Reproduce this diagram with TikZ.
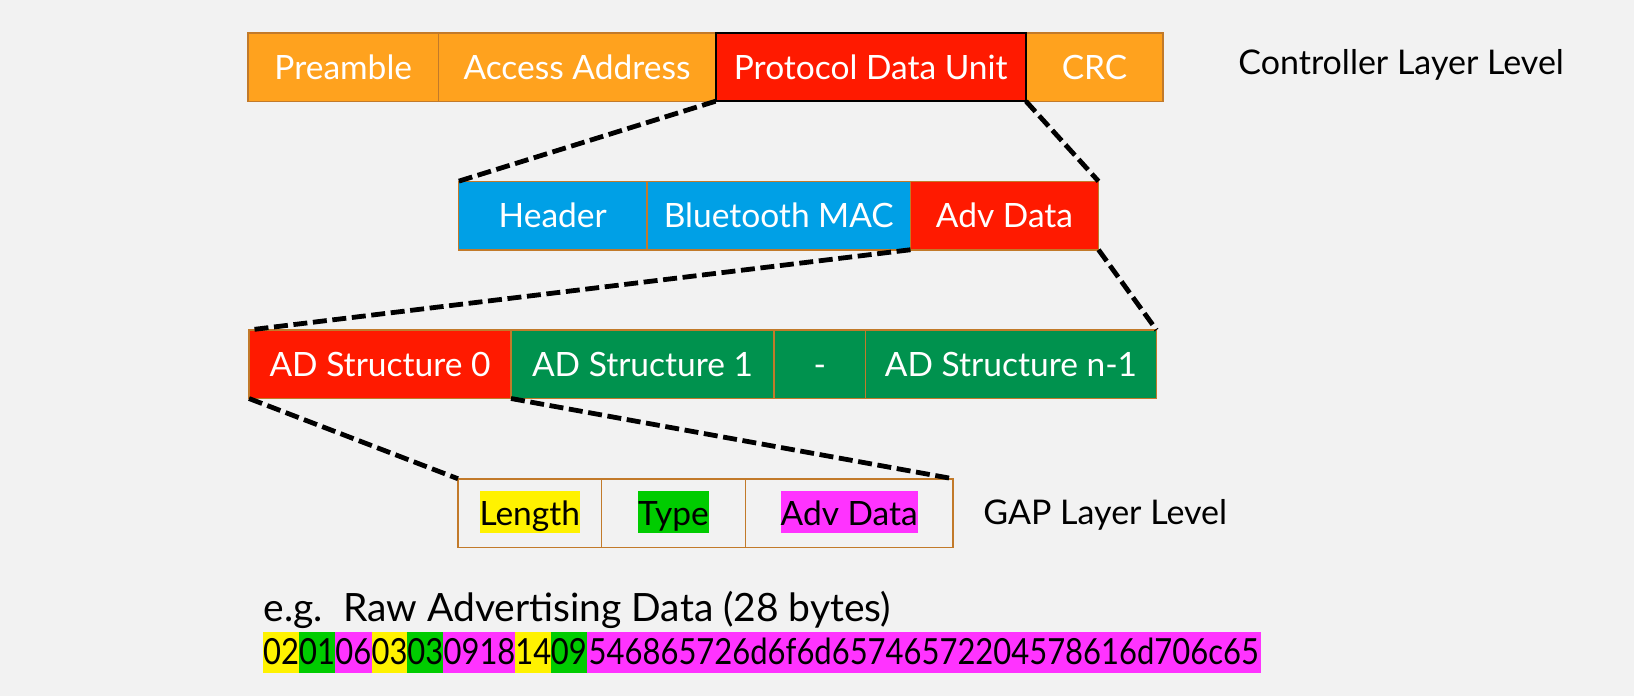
\documentclass[tikz,border=0pt]{standalone}
\usepackage{fontspec}
\setmainfont{Lato}
\definecolor{bg}{HTML}{F2F2F2}
\definecolor{corange}{HTML}{FFA21E}
\definecolor{cred}{HTML}{FF1A00}
\definecolor{cblue}{HTML}{00A0E6}
\definecolor{cgreen}{HTML}{00924E}
\definecolor{cborder}{HTML}{C27A2A}
\definecolor{hyellow}{HTML}{FFF200}
\definecolor{hgreen}{HTML}{00CC00}
\definecolor{hmag}{HTML}{FF33FF}
\newcommand{\hlbox}[2]{{\setlength{\fboxsep}{0pt}\colorbox{#1}{\rule[-4pt]{0pt}{21pt}#2}}}
\newcommand{\hx}[1]{\scalebox{0.86}[1]{#1}}
\tikzset{
  cell/.style={draw=cborder, line width=0.75pt, inner sep=0pt, outer sep=0pt,
    text=white, font=\fontsize{16.75}{20}\selectfont, text height=12pt, text depth=0pt,
    minimum height=34.25pt},
  gapcell/.style={cell, fill=bg, text=black},
  conn/.style={draw=black, line width=2.4pt, dash pattern=on 7pt off 2.8pt},
  lvl/.style={anchor=base west, inner sep=0pt, font=\fontsize{17}{20}\selectfont},
  hexseg/.style={inner sep=0pt, outer sep=0pt, minimum height=20.5pt,
    text height=13pt, text depth=1.2pt, font=\fontsize{18}{20}\selectfont}
}
\begin{document}
\begin{tikzpicture}[x=0.5pt,y=-0.5pt]
\fill[bg] (0,0) rectangle (1634,696);
\useasboundingbox (0,0) rectangle (1634,696);
% Row 1
\node[cell, fill=corange, minimum width=95.25pt] (pre) at (343.25,67) {Preamble};
\node[cell, fill=corange, minimum width=138.5pt] (aa) at (577,67) {Access Address};
\node[cell, fill=corange, minimum width=68.5pt] (crc) at (1094.5,67) {CRC};
\node[cell, fill=cred, draw=black, line width=1pt, minimum width=155.25pt] (pdu) at (870.75,67) {Protocol Data Unit};
\node[lvl] (ctl) at (1238,75) {Controller Layer Level};
% Row 2
\node[cell, fill=cblue, minimum width=94.25pt] (hdr) at (552.75,215.5) {Header};
\node[cell, fill=cblue, minimum width=131.75pt] (mac) at (778.75,215.5) {Bluetooth MAC};
\node[cell, fill=cred, minimum width=94pt] (adv) at (1004.5,215.5) {Adv Data};
% Row 3
\node[cell, fill=cred, minimum width=131pt] (ad0) at (380,364.25) {AD Structure 0};
\node[cell, fill=cgreen, minimum width=131.5pt] (ad1) at (642.5,364.25) {AD Structure 1};
\node[cell, fill=cgreen, minimum width=45.75pt] (dsh) at (819.75,364.25) {-};
\node[cell, fill=cgreen, minimum width=145.5pt] (adn) at (1011,364.25) {AD Structure n-1};
% Row 4
\node[gapcell, minimum width=71.75pt] (len) at (529.75,513) {\hlbox{hyellow}{Length}};
\node[gapcell, minimum width=72pt] (typ) at (673.5,513) {\hlbox{hgreen}{Type}};
\node[gapcell, minimum width=103.75pt] (gad) at (849.25,513) {\hlbox{hmag}{Adv Data}};
\node[lvl] (gap) at (983,524) {GAP Layer Level};
% connectors
\draw[conn] (pdu.south west) -- (hdr.north west);
\draw[conn] (pdu.south east) -- (adv.north east);
\draw[conn] (adv.south west) -- (ad0.north west);
\draw[conn] (adv.south east) -- (adn.north east);
\draw[conn] (ad0.south west) -- (len.north west);
\draw[conn] (ad0.south east) -- (gad.north east);
% raw data
\node[anchor=base west, inner sep=0pt, font=\fontsize{19.5}{22}\selectfont] (eg) at (263.5,621) {e.g.\ \ Raw Advertising Data (28 bytes)};
\node[hexseg, fill=hyellow, minimum width=17.85pt] (x1) at (281.15,652.2) {\hx{02}};
\node[hexseg, fill=hgreen, minimum width=18pt] (x2) at (317,652.2) {\hx{01}};
\node[hexseg, fill=hmag, minimum width=18.35pt] (x3) at (353.35,652.2) {\hx{06}};
\node[hexseg, fill=hyellow, minimum width=17.8pt] (x4) at (389.5,652.2) {\hx{03}};
\node[hexseg, fill=hgreen, minimum width=18pt] (x5) at (425.3,652.2) {\hx{03}};
\node[hexseg, fill=hmag, minimum width=36.2pt] (x6) at (479.5,652.2) {\hx{0918}};
\node[hexseg, fill=hyellow, minimum width=17.65pt] (x7) at (533.35,652.2) {\hx{14}};
\node[hexseg, fill=hgreen, minimum width=17.85pt] (x8) at (568.85,652.2) {\hx{09}};
\node[hexseg, fill=hmag, minimum width=337.15pt] (x9) at (923.85,652.2) {\hx{546865726d6f6d65746572204578616d706c65}};
\end{tikzpicture}
\end{document}
